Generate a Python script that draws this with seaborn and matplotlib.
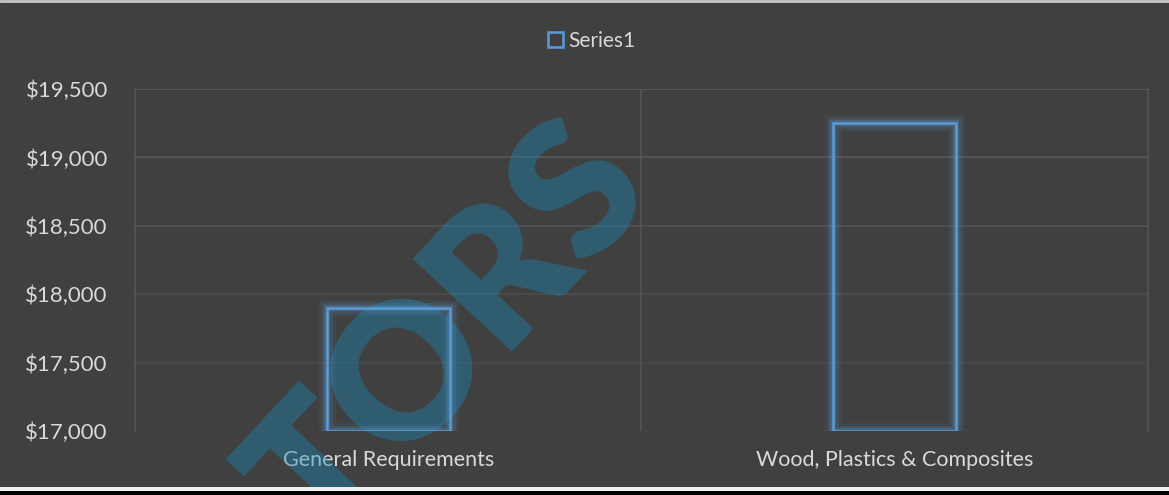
import matplotlib
matplotlib.use("Agg")
import matplotlib.pyplot as plt
import matplotlib.patheffects as pe
from matplotlib.patches import Rectangle
from matplotlib.lines import Line2D
from matplotlib.ticker import FuncFormatter
import seaborn as sns

# data
categories = ["General Requirements", "Wood, Plastics & Composites"]
values = [17900, 19255]
series_name = "Series1"
y_ticks = [17000, 17500, 18000, 18500, 19000, 19500]

BG = "#404040"
GRID = "#5a5a5a"
TEXT = "#d9d9d9"
BLUE = "#5b9bd5"

sns.set_style("dark")
plt.rcParams["font.family"] = ["Lato", "DejaVu Sans"]

fig = plt.figure(figsize=(11.69, 4.95), dpi=100, facecolor=BG)
ax = fig.add_axes([0.1155, 0.1293, 0.8665, 0.6909])
ax.set_facecolor(BG)

sns.barplot(x=categories, y=values, fill=False, color=BLUE, width=0.243,
            linewidth=1.8, ax=ax)

ymin = y_ticks[0]
glow = [pe.Stroke(linewidth=12, foreground=BLUE, alpha=0.08),
        pe.Stroke(linewidth=8, foreground=BLUE, alpha=0.14),
        pe.Stroke(linewidth=4.5, foreground=BLUE, alpha=0.25),
        pe.Normal()]
for p in ax.patches:
    top = p.get_y() + p.get_height()
    p.set_y(ymin)
    p.set_height(top - ymin)
    p.set_edgecolor(BLUE)
    p.set_path_effects(glow)
    p.set_zorder(3)

ax.set_ylim(ymin, y_ticks[-1])
ax.set_xlim(-0.5, len(categories) - 0.5)
ax.set_yticks(y_ticks)
ax.yaxis.set_major_formatter(FuncFormatter(lambda v, _: f"${v:,.0f}"))
ax.set_xticks(range(len(categories)))
ax.set_xticklabels(categories)
ax.set_xticks([0.5], minor=True)

ax.tick_params(axis="y", colors=TEXT, labelsize=16, length=0, pad=19.5)
ax.tick_params(axis="x", which="both", colors=TEXT, labelsize=15.5, length=0, pad=14)
for lab in ax.get_xticklabels() + ax.get_yticklabels():
    lab.set_zorder(6)

# horizontal grid fading toward the bottom
ax.grid(False)
ax.yaxis.grid(True, color=GRID, linewidth=1.3)
ylines = ax.get_ygridlines()
n = len(ylines)
for i, gl in enumerate(ylines):
    gl.set_alpha(0.15 + 0.85 * i / (n - 1))
ax.xaxis.grid(True, which="minor", color=GRID, linewidth=1.3, alpha=0.7)
ax.set_axisbelow(True)

for side in ["left", "right"]:
    ax.spines[side].set_visible(True)
    ax.spines[side].set_color(GRID)
    ax.spines[side].set_alpha(0.7)
    ax.spines[side].set_linewidth(1.3)
ax.spines["top"].set_visible(False)
ax.spines["bottom"].set_visible(False)
ax.set_xlabel("")
ax.set_ylabel("")

# legend
handle = Rectangle((0, 0), 1, 1, facecolor="none", edgecolor=BLUE, linewidth=1.8)
leg = fig.legend([handle], [series_name], loc="center", bbox_to_anchor=(0.506, 0.918),
                 frameon=False, fontsize=15, handlelength=0.7, handleheight=0.7,
                 handletextpad=0.25, labelcolor=TEXT)

# watermark (behind the bars)
ax.text(0.385, 0.32, "TORS", transform=fig.transFigure, fontsize=134,
        fontweight="heavy", color="#1a88b8", alpha=0.4, rotation=47,
        ha="center", va="center", zorder=2, clip_on=False)

# frame lines
fig.add_artist(Line2D([0, 1], [0.997, 0.997], color="#c8c8c8", linewidth=2))
fig.add_artist(Rectangle((0, 0.0), 1, 0.009, transform=fig.transFigure,
                         facecolor="black", edgecolor="none"))
fig.add_artist(Rectangle((0, 0.009), 1, 0.008, transform=fig.transFigure,
                         facecolor="#f0f0f0", edgecolor="none"))

fig.savefig("out.png", dpi=100, facecolor=BG)
